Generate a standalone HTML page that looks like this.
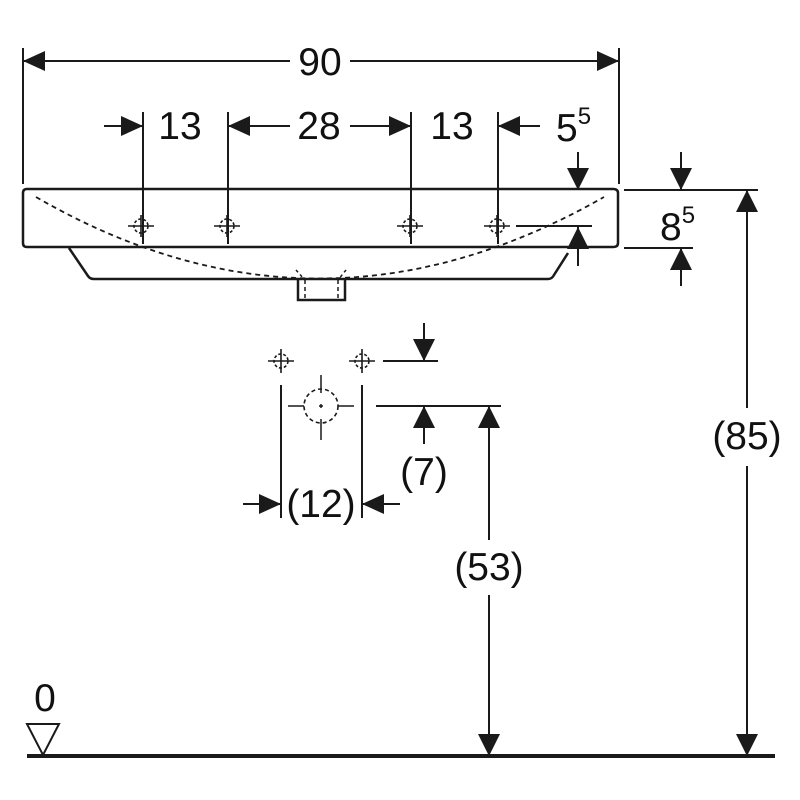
<!DOCTYPE html>
<html><head><meta charset="utf-8"><style>
html,body{margin:0;padding:0;background:#fff}
svg{display:block}
text{font-family:"Liberation Sans",sans-serif;font-size:39px;fill:#111}
</style></head><body>
<svg width="800" height="800" viewBox="0 0 800 800" xmlns="http://www.w3.org/2000/svg">
<g stroke="#1a1a1a" stroke-width="2" fill="none">
<line x1="23" y1="48" x2="23" y2="184"/>
<line x1="619" y1="48" x2="619" y2="184"/>
<line x1="23" y1="61" x2="290" y2="61"/>
<line x1="350" y1="61" x2="619" y2="61"/>
<line x1="143" y1="112" x2="143" y2="244"/>
<line x1="228" y1="112" x2="228" y2="244"/>
<line x1="411" y1="112" x2="411" y2="244"/>
<line x1="498" y1="112" x2="498" y2="244"/>
<line x1="104" y1="126" x2="143" y2="126"/>
<line x1="228" y1="126" x2="290" y2="126"/>
<line x1="350" y1="126" x2="411" y2="126"/>
<line x1="498" y1="126" x2="540" y2="126"/>
<line x1="578" y1="152" x2="578" y2="190"/>
<line x1="578" y1="227" x2="578" y2="266"/>
<line x1="516" y1="226" x2="592" y2="226"/>
<path d="M27 189 L613 189 Q618 189 618 193 L618 243 Q618 247 613 247 L27 247 Q23 247 23 243 L23 193 Q23 189 27 189 Z" stroke-width="2.5"/>
<path d="M69 248 L88 276 Q90 279 94 279 L548 279 Q552 279 554 275 L568 253" stroke-width="2.5"/>
<path d="M298 280 L298 300 L345 300 L345 280" stroke-width="2.5"/>
<path d="M305 280 L305 300 M338 280 L338 300" stroke-dasharray="4 3" stroke-width="1.5"/>
<path d="M36 197 Q318 360 604 197" stroke-dasharray="5 4" stroke-width="1.8"/>
<path d="M296 270 L305 280 M346 270 L338 280" stroke-dasharray="3 3" stroke-width="1.5"/>
<line x1="624" y1="190" x2="758" y2="190"/>
<line x1="624" y1="248" x2="693" y2="248"/>
<line x1="681" y1="152" x2="681" y2="190"/>
<line x1="681" y1="248" x2="681" y2="286"/>
<line x1="747" y1="190" x2="747" y2="408"/>
<line x1="747" y1="466" x2="747" y2="756"/>
<line x1="27" y1="756" x2="775" y2="756" stroke-width="4"/>
<line x1="281" y1="385" x2="281" y2="518"/>
<line x1="362" y1="385" x2="362" y2="518"/>
<line x1="243" y1="504" x2="281" y2="504"/>
<line x1="362" y1="504" x2="400" y2="504"/>
<line x1="383" y1="361" x2="438" y2="361"/>
<line x1="424" y1="323" x2="424" y2="361"/>
<line x1="376" y1="406" x2="501" y2="406"/>
<line x1="424" y1="406" x2="424" y2="444"/>
<line x1="489" y1="406" x2="489" y2="540"/>
<line x1="489" y1="595" x2="489" y2="756"/>
<circle cx="321" cy="406" r="17" stroke-dasharray="4 3" stroke-width="1.6"/>
<path d="M321 375 L321 393 M321 419 L321 440 M288 406 L304 406 M338 406 L354 406" stroke-width="1.5"/>
<path d="M319 406 L323 406 M321 404 L321 408" stroke-width="1.5"/>
</g>
<g stroke="#1a1a1a" stroke-width="1.6" fill="none">
<g transform="translate(141,226)"><circle r="7" stroke-dasharray="3 2"/><path d="M-13 0 L13 0 M0 -11 L0 11"/></g>
<g transform="translate(227,226)"><circle r="7" stroke-dasharray="3 2"/><path d="M-13 0 L13 0 M0 -11 L0 11"/></g>
<g transform="translate(410,226)"><circle r="7" stroke-dasharray="3 2"/><path d="M-13 0 L13 0 M0 -11 L0 11"/></g>
<g transform="translate(497,226)"><circle r="7" stroke-dasharray="3 2"/><path d="M-13 0 L13 0 M0 -11 L0 11"/></g>
<g transform="translate(281,361)"><circle r="7" stroke-dasharray="3 2"/><path d="M-13 0 L13 0 M0 -12 L0 12"/></g>
<g transform="translate(362,361)"><circle r="7" stroke-dasharray="3 2"/><path d="M-13 0 L13 0 M0 -12 L0 12"/></g>
</g>
<g fill="#1a1a1a">
<polygon points="23,61 45,51 45,71"/>
<polygon points="619,61 597,51 597,71"/>
<polygon points="143,126 121,116 121,136"/>
<polygon points="228,126 250,116 250,136"/>
<polygon points="411,126 389,116 389,136"/>
<polygon points="498,126 520,116 520,136"/>
<polygon points="578,190 567,168 589,168"/>
<polygon points="578,227 567,249 589,249"/>
<polygon points="681,190 670,168 692,168"/>
<polygon points="681,248 670,270 692,270"/>
<polygon points="747,190 736,212 758,212"/>
<polygon points="747,756 736,734 758,734"/>
<polygon points="281,504 259,494 259,514"/>
<polygon points="362,504 384,494 384,514"/>
<polygon points="424,361 413,339 435,339"/>
<polygon points="424,406 413,428 435,428"/>
<polygon points="489,406 478,428 500,428"/>
<polygon points="489,756 478,734 500,734"/>
</g>
<polygon points="27,724 59,724 43,755" fill="#fff" stroke="#1a1a1a" stroke-width="2"/>
<text x="320" y="75" text-anchor="middle">90</text>
<text x="180" y="139" text-anchor="middle">13</text>
<text x="319" y="139" text-anchor="middle">28</text>
<text x="452" y="139" text-anchor="middle">13</text>
<text x="556" y="141">5<tspan font-size="24" dy="-17">5</tspan></text>
<text x="660" y="240">8<tspan font-size="24" dy="-17">5</tspan></text>
<text x="747" y="449" text-anchor="middle">(85)</text>
<text x="489" y="580" text-anchor="middle">(53)</text>
<text x="424" y="485" text-anchor="middle">(7)</text>
<text x="321" y="517" text-anchor="middle">(12)</text>
<text x="45" y="711" text-anchor="middle">0</text>
</svg>
</body></html>
